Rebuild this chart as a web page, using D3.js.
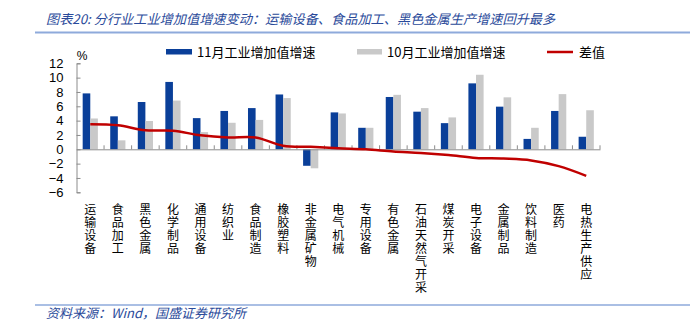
<!DOCTYPE html>
<html><head><meta charset="utf-8">
<script src="https://cdn.jsdelivr.net/npm/d3@7"></script>
<style>
body{margin:0;background:#fff;}
svg{display:block;}
</style></head>
<body><svg id="c" width="690" height="322"></svg>
<script>
const categories = ["运输设备","食品加工","黑色金属","化学制品","通用设备","纺织业","食品制造","橡胶塑料","非金属矿物","电气机械","专用设备","有色金属","石油天然气开采","煤炭开采","电子设备","金属制品","饮料制造","医药","电热生产供应"];
const nov = [7.8,4.6,6.6,9.4,4.35,5.35,5.75,7.65,-2.3,5.15,3.0,7.3,5.25,3.65,9.2,5.95,1.45,5.35,1.75];
const oct = [4.3,1.25,3.95,6.8,2.4,3.7,4.1,7.15,-2.65,5.0,3.0,7.6,5.75,4.45,10.4,7.25,3.0,7.7,5.45];
const diff = [3.5,3.35,2.65,2.6,1.95,1.65,1.65,0.5,0.35,0.15,0.0,-0.3,-0.5,-0.8,-1.2,-1.3,-1.55,-2.35,-3.7];
const yTicks = [12,10,8,6,4,2,0,-2,-4,-6];
const seriesNames = ["11月工业增加值增速","10月工业增加值增速","差值"];
const title = "图表20: 分行业工业增加值增速变动：运输设备、食品加工、黑色金属生产增速回升最多";
const source = "资料来源：Wind，国盛证券研究所";

const svg = d3.select("#c");
const cjk = "'Noto Sans CJK SC', sans-serif";
const blue = "#0a3f99", gray = "#c9c9c9", red = "#c00000", axisC = "#8c8c8c", titleC = "#2a4a9a";

// title & source
svg.append("text").attr("x",46).attr("y",24).attr("font-family",cjk).attr("font-size",13.2)
  .attr("font-style","italic").attr("fill",titleC).text(title);
svg.append("line").attr("x1",35).attr("x2",690).attr("y1",32.5).attr("y2",32.5).attr("stroke","#8eaadb").attr("stroke-width",2);
svg.append("line").attr("x1",35).attr("x2",690).attr("y1",305).attr("y2",305).attr("stroke","#8eaadb").attr("stroke-width",1.5);
svg.append("text").attr("x",46).attr("y",318).attr("font-family",cjk).attr("font-size",13)
  .attr("font-style","italic").attr("fill",titleC).text(source);

const x = d3.scaleBand().domain(categories).range([76.5,600]).paddingInner(0).paddingOuter(0);
const y = d3.scaleLinear().domain([-6,12]).range([192.3,63.3]);
const bw = 7.6;

// bars
const g = svg.append("g");
g.selectAll(".b1").data(categories).join("rect")
  .attr("x",d=>x(d)+x.bandwidth()/2-bw).attr("width",bw)
  .attr("y",(d,i)=>y(Math.max(0,nov[i]))).attr("height",(d,i)=>Math.abs(y(nov[i])-y(0)))
  .attr("fill",blue);
g.selectAll(".b2").data(categories).join("rect")
  .attr("x",d=>x(d)+x.bandwidth()/2).attr("width",bw)
  .attr("y",(d,i)=>y(Math.max(0,oct[i]))).attr("height",(d,i)=>Math.abs(y(oct[i])-y(0)))
  .attr("fill",gray);

// y axis
const ya = svg.append("g").attr("transform","translate(76.5,0)")
  .call(d3.axisLeft(y).tickValues(yTicks).tickSize(-4).tickPadding(13).tickFormat(d3.format("d")));
ya.select(".domain").attr("stroke",axisC);
ya.selectAll(".tick line").attr("stroke",axisC);
ya.selectAll("text").attr("font-family","'Liberation Sans',Arial,sans-serif").attr("font-size",13).attr("fill","#000");

// x axis at zero
const xa = svg.append("g").attr("transform",`translate(0,${y(0)})`)
  .call(d3.axisBottom(x).tickSize(0).tickFormat(""));
xa.select(".domain").attr("stroke",axisC);
xa.selectAll(".tick").remove();
const bounds = categories.map(c=>x(c)+x.bandwidth());
xa.selectAll(".bt").data(bounds).join("line")
  .attr("x1",d=>d).attr("x2",d=>d).attr("y1",0).attr("y2",-4).attr("stroke",axisC);

// category labels (vertical, one character per line)
const lab = svg.append("g");
categories.forEach((c,i)=>{
  const cx = x(c)+x.bandwidth()/2;
  Array.from(c).forEach((ch,j)=>{
    lab.append("text").attr("x",cx).attr("y",214+j*13).attr("text-anchor","middle")
      .attr("font-family",cjk).attr("font-size",12).attr("fill","#000").text(ch);
  });
});

// % label
svg.append("text").attr("x",82).attr("y",60).attr("text-anchor","middle")
  .attr("font-family","'Liberation Sans',Arial,sans-serif").attr("font-size",12).text("%");

// diff line
const line = d3.line().x((d,i)=>x(categories[i])+x.bandwidth()/2).y(d=>y(d)).curve(d3.curveCatmullRom.alpha(0.5));
svg.append("path").datum(diff).attr("d",line).attr("fill","none").attr("stroke",red).attr("stroke-width",2.5);

// legend
const lg = svg.append("g").attr("font-family",cjk).attr("font-size",13);
lg.append("rect").attr("x",166).attr("y",49).attr("width",26).attr("height",5.5).attr("fill",blue);
lg.append("text").attr("x",197).attr("y",56.5).text(seriesNames[0]);
lg.append("rect").attr("x",357).attr("y",49).attr("width",25).attr("height",5.5).attr("fill",gray);
lg.append("text").attr("x",387).attr("y",56.5).text(seriesNames[1]);
lg.append("line").attr("x1",547).attr("x2",573).attr("y1",52).attr("y2",52).attr("stroke",red).attr("stroke-width",2.5);
lg.append("text").attr("x",579).attr("y",56.5).text(seriesNames[2]);
</script></body></html>
